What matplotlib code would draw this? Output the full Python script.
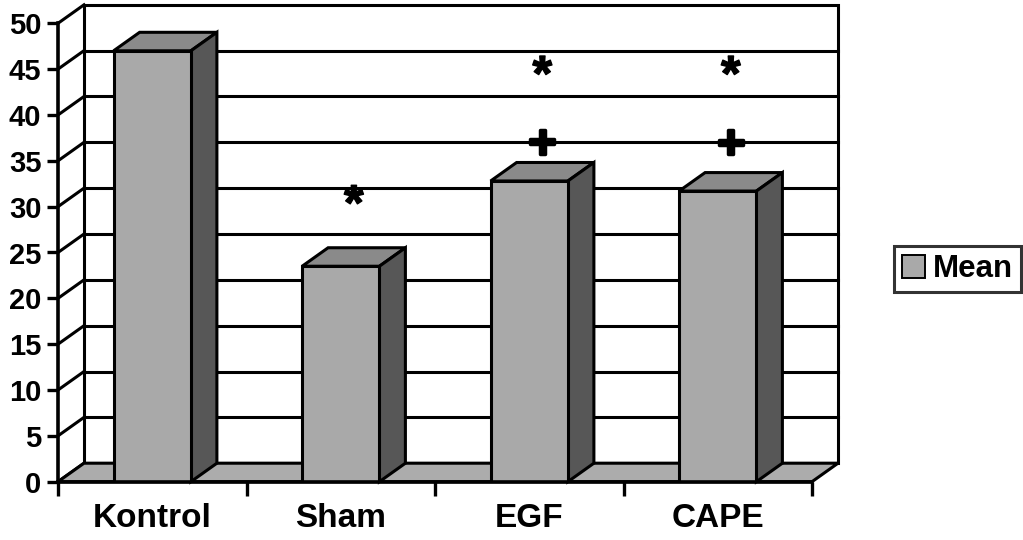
import matplotlib
matplotlib.use("Agg")
import matplotlib.pyplot as plt
import matplotlib.patheffects as pe
from matplotlib.patches import Polygon, Rectangle, Patch
from matplotlib.ticker import FixedLocator, NullFormatter

plt.rcParams["font.family"] = ["Liberation Sans", "DejaVu Sans"]

# ---- data -------------------------------------------------------------
categories = ["Kontrol", "Sham", "EGF", "CAPE"]
means = [47.0, 23.5, 32.8, 31.7]
y_ticks = list(range(0, 51, 5))
series_name = "Mean"

# significance symbols above the columns
star_groups = ["Sham", "EGF", "CAPE"]
star_heights = [30.0, 44.1, 44.1]
plus_groups = ["EGF", "CAPE"]
plus_heights = [36.7, 36.6]

# ---- style ------------------------------------------------------------
FRONT = "#a9a9a9"
TOP = "#8a8a8a"
SIDE = "#575757"
FLOOR = "#acacac"
LW = 2.2
BAR_W = 0.41
DEPTH_PX = (26.0, 18.5)   # oblique depth of the 3-D box, in pixels

fig = plt.figure(figsize=(10.23, 5.40), dpi=100)
W, H = 1023, 540
ax = fig.add_axes([58 / W, (H - 481.7) / H, 754 / W, (481.7 - 23.3) / H])
ax.set_xlim(-0.5, len(categories) - 0.5)
ax.set_ylim(y_ticks[0], y_ticks[-1])
ax.set_facecolor("none")

# depth offset expressed in data units
fig.canvas.draw()
p0 = ax.transData.transform((0, 0))
p1 = ax.transData.transform((1, 1))
dx = DEPTH_PX[0] / (p1[0] - p0[0])
dy = DEPTH_PX[1] / (p1[1] - p0[1])

x_lo, x_hi = -0.5, len(categories) - 0.5
y_top = y_ticks[-1]

# back wall with gridlines
ax.add_patch(Rectangle((x_lo + dx, dy), x_hi - x_lo, y_top, facecolor="white",
                       edgecolor="black", lw=LW, clip_on=False, zorder=1))
for t in y_ticks[1:-1]:
    ax.plot([x_lo + dx, x_hi + dx], [t + dy, t + dy], color="black", lw=LW,
            clip_on=False, zorder=2)

# side wall: diagonal lines joining the value axis to the back wall
for t in y_ticks:
    ax.plot([x_lo, x_lo + dx], [t, t + dy], color="black", lw=LW,
            clip_on=False, zorder=2)

# floor
ax.add_patch(Polygon([(x_lo, 0), (x_hi, 0), (x_hi + dx, dy), (x_lo + dx, dy)],
                     closed=True, facecolor=FLOOR, edgecolor="black", lw=LW,
                     clip_on=False, zorder=3))

# 3-D columns
xs = list(range(len(categories)))
ax.bar(xs, means, width=BAR_W, color=FRONT, edgecolor="black", lw=LW, zorder=5)
for i, v in zip(xs, means):
    x0, x1 = i - BAR_W / 2, i + BAR_W / 2
    ax.add_patch(Polygon([(x0, v), (x1, v), (x1 + dx, v + dy), (x0 + dx, v + dy)],
                         closed=True, facecolor=TOP, edgecolor="black", lw=LW,
                         clip_on=False, zorder=4))
    ax.add_patch(Polygon([(x1, 0), (x1 + dx, dy), (x1 + dx, v + dy), (x1, v)],
                         closed=True, facecolor=SIDE, edgecolor="black", lw=LW,
                         clip_on=False, zorder=4))

# significance marks
for g, h in zip(star_groups, star_heights):
    ax.text(categories.index(g) + dx / 2, h, "*", ha="center", va="center",
            fontsize=36, fontweight="bold", zorder=6,
            path_effects=[pe.withStroke(linewidth=1.0, foreground="black")])
for g, h in zip(plus_groups, plus_heights):
    ax.text(categories.index(g) + dx / 2, h, "+", ha="center", va="center",
            fontsize=34, fontweight="bold", zorder=6,
            path_effects=[pe.withStroke(linewidth=2.5, foreground="black")])

# axes
for s in ("top", "right"):
    ax.spines[s].set_visible(False)
for s in ("left", "bottom"):
    ax.spines[s].set_linewidth(LW + 0.4)
    ax.spines[s].set_zorder(7)
ax.set_yticks(y_ticks)
ax.tick_params(axis="y", direction="out", length=8, width=2.4, pad=4,
               labelsize=21)
for lab in ax.get_yticklabels():
    lab.set_fontweight("bold")

ax.xaxis.set_major_locator(FixedLocator([x_lo + k for k in range(len(categories) + 1)]))
ax.xaxis.set_major_formatter(NullFormatter())
ax.xaxis.set_minor_locator(FixedLocator(xs))
ax.set_xticklabels(categories, minor=True, fontsize=24, fontweight="bold")
ax.tick_params(axis="x", which="major", direction="out", length=10, width=2.4)
ax.tick_params(axis="x", which="minor", length=0, pad=15)

# legend
leg = fig.legend(handles=[Patch(facecolor=FRONT, edgecolor="black", lw=1.4)],
                 labels=[series_name], loc="center left",
                 bbox_to_anchor=(894 / W, (H - 269) / H),
                 bbox_transform=fig.transFigure,
                 prop={"weight": "bold", "size": 22.5}, fancybox=False,
                 frameon=True, borderpad=0.25, handlelength=0.75,
                 handleheight=0.75, handletextpad=0.25, borderaxespad=0)
leg.get_frame().set_edgecolor("black")
leg.get_frame().set_linewidth(2.2)

fig.savefig("out.png", dpi=100)
